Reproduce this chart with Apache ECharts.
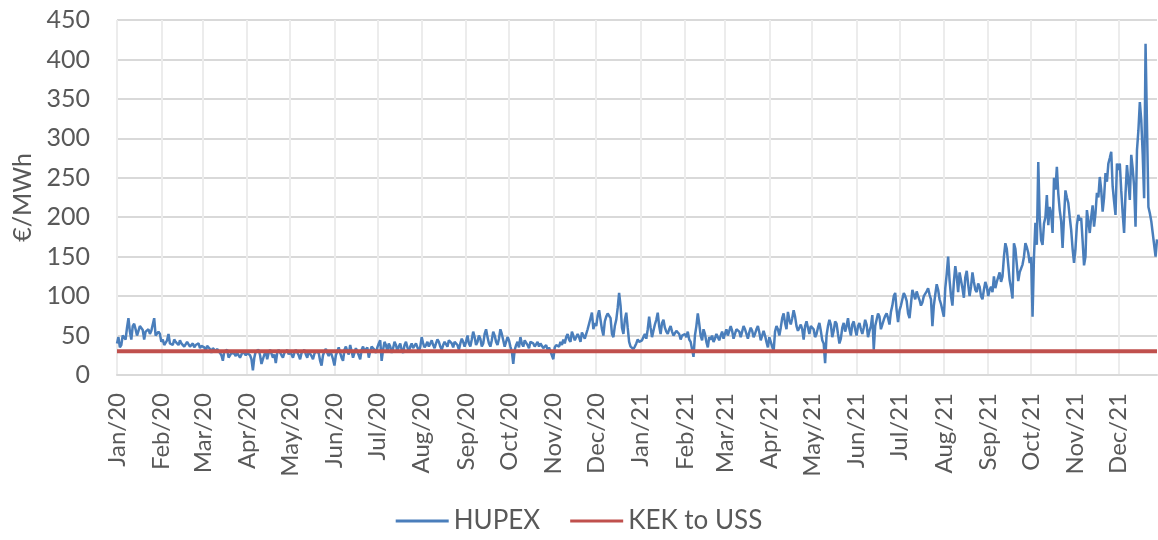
<!DOCTYPE html>
<html>
<head>
<meta charset="utf-8">
<script src="https://cdn.jsdelivr.net/npm/echarts@6/dist/echarts.min.js"></script>
<style>
html, body { margin: 0; padding: 0; background: #fff; }
#chart { width: 1158px; height: 540px; }
</style>
</head>
<body>
<div id="chart"></div>
<script>
// HUPEX day-ahead price, €/MWh, one value per day, month by month
var jan20 = [40, 48, 35, 38, 50, 52, 45, 60, 72, 55, 45, 62, 65, 58, 50, 48, 62, 60, 57, 45, 55, 55, 58, 52, 56, 55, 72, 50, 48, 55, 52];
var feb20 = [42, 45, 38, 40, 44, 52, 40, 42, 38, 45, 42, 40, 38, 44, 40, 42, 36, 38, 42, 40, 36, 38, 40, 35, 38, 36, 40, 34, 37];
var mar20 = [36, 35, 30, 37, 38, 33, 28, 34, 36, 30, 33, 32, 28, 25, 18, 30, 28, 32, 22, 25, 28, 30, 27, 24, 28, 30, 22, 26, 30, 28, 25];
var apr20 = [28, 30, 25, 20, 6, 22, 30, 28, 32, 25, 14, 12, 26, 30, 20, 28, 32, 30, 22, 26, 15, 28, 32, 34, 25, 22, 28, 30, 32, 26];
var may20 = [30, 26, 22, 28, 32, 30, 25, 20, 28, 30, 32, 26, 22, 30, 28, 24, 20, 27, 30, 32, 28, 18, 12, 25, 30, 33, 28, 24, 30, 26, 20];
var jun20 = [12, 25, 30, 35, 28, 22, 18, 32, 36, 30, 26, 38, 30, 22, 28, 34, 36, 25, 20, 32, 36, 30, 28, 35, 22, 30, 36, 38, 32, 28];
var jul20 = [35, 40, 44, 18, 32, 42, 38, 30, 40, 36, 28, 34, 42, 38, 30, 36, 40, 32, 28, 38, 42, 35, 30, 36, 40, 34, 32, 40, 38, 30, 36];
var aug20 = [48, 40, 35, 38, 42, 36, 40, 44, 38, 34, 40, 45, 42, 36, 32, 38, 42, 40, 36, 44, 46, 40, 35, 42, 44, 38, 32, 40, 46, 42, 36];
var sep20 = [42, 50, 40, 36, 45, 55, 48, 38, 42, 50, 46, 36, 40, 52, 58, 48, 40, 36, 44, 55, 50, 42, 38, 46, 58, 52, 44, 36, 42, 48];
var oct20 = [44, 36, 30, 14, 32, 38, 42, 35, 48, 40, 36, 44, 46, 38, 34, 42, 44, 40, 36, 38, 42, 36, 40, 38, 34, 36, 38, 32, 35, 30, 28];
var nov20 = [20, 35, 38, 40, 36, 42, 38, 45, 40, 48, 52, 45, 42, 55, 50, 44, 46, 52, 48, 42, 54, 50, 46, 48, 58, 60, 72, 79, 58, 66];
var dec20 = [62, 75, 82, 70, 58, 50, 68, 74, 78, 80, 72, 52, 48, 62, 70, 85, 104, 88, 60, 52, 70, 79, 60, 42, 36, 34, 33, 36, 40, 45, 42];
var jan21 = [40, 44, 48, 52, 46, 58, 74, 60, 48, 56, 64, 70, 79, 62, 52, 66, 70, 60, 55, 52, 58, 62, 55, 50, 48, 56, 58, 52, 45, 50, 48];
var feb21 = [52, 48, 55, 45, 42, 40, 23, 50, 62, 78, 65, 50, 44, 58, 52, 42, 35, 48, 45, 50, 42, 46, 52, 48, 44, 50, 55, 46];
var mar21 = [52, 58, 50, 48, 62, 56, 46, 52, 58, 60, 55, 48, 50, 62, 58, 52, 46, 54, 60, 56, 48, 52, 58, 62, 54, 44, 50, 56, 50, 42, 35];
var apr21 = [48, 42, 36, 30, 55, 62, 58, 50, 60, 72, 78, 66, 58, 80, 70, 64, 72, 82, 74, 62, 56, 60, 64, 58, 45, 62, 68, 60, 52, 62];
var may21 = [62, 58, 48, 52, 60, 66, 56, 44, 40, 15, 50, 62, 70, 64, 48, 56, 68, 65, 52, 40, 46, 60, 66, 55, 62, 72, 58, 50, 64, 68, 58];
var jun21 = [50, 62, 66, 58, 52, 60, 70, 64, 48, 56, 62, 76, 32, 62, 70, 78, 74, 58, 56, 70, 75, 78, 72, 64, 80, 88, 100, 104, 82, 67];
var jul21 = [82, 88, 96, 104, 100, 94, 78, 72, 90, 108, 102, 96, 106, 100, 95, 88, 92, 100, 98, 106, 110, 102, 96, 62, 88, 102, 115, 108, 96, 90, 88];
var aug21 = [74, 110, 128, 150, 120, 100, 88, 118, 138, 125, 105, 130, 128, 110, 98, 124, 132, 115, 100, 112, 130, 118, 108, 105, 116, 112, 100, 96, 108, 118, 112];
var sep21 = [100, 108, 112, 105, 125, 110, 118, 116, 130, 118, 125, 150, 167, 160, 140, 120, 110, 97, 167, 160, 140, 119, 130, 128, 140, 150, 167, 162, 155, 142];
var oct21 = [150, 74, 150, 193, 165, 270, 200, 171, 165, 192, 200, 228, 190, 213, 205, 180, 250, 235, 264, 230, 209, 195, 161, 200, 234, 225, 218, 200, 184, 160, 142];
var nov21 = [160, 190, 203, 196, 199, 170, 139, 150, 209, 195, 180, 200, 215, 188, 205, 231, 225, 251, 235, 207, 225, 256, 245, 268, 275, 283, 239, 220, 203, 268];
var dec21 = [260, 268, 234, 205, 180, 230, 266, 245, 222, 279, 262, 239, 188, 285, 310, 346, 323, 280, 224, 420, 420, 213, 205, 195, 180, 165, 150, 172];

// KEK to USS level, €/MWh (flat)
var kekLevel = 30;

var monthNames = ['Jan', 'Feb', 'Mar', 'Apr', 'May', 'Jun', 'Jul', 'Aug', 'Sep', 'Oct', 'Nov', 'Dec'];

var hupex = [].concat(jan20, feb20, mar20, apr20, may20, jun20, jul20, aug20, sep20, oct20, nov20, dec20,
                      jan21, feb21, mar21, apr21, may21, jun21, jul21, aug21, sep21, oct21, nov21, dec21);

function pad(n) { return n < 10 ? '0' + n : '' + n; }

var dates = [];
var kek = [];
for (var i = 0; i < hupex.length; i++) {
    var d = new Date(Date.UTC(2020, 0, 1 + i));
    dates.push(d.getUTCFullYear() + '-' + pad(d.getUTCMonth() + 1) + '-' + pad(d.getUTCDate()));
    kek.push(kekLevel);
}

//只在每月1号显示刻度
function isMonthStart(idx, val) {
    return String(val).slice(8) === '01';
}

var fontFam = 'Lato, "Open Sans", sans-serif';
var textCol = '#595959';

var chart = echarts.init(document.getElementById('chart'));
chart.setOption({
    animation: false,
    backgroundColor: '#fff',
    textStyle: { fontFamily: fontFam },
    grid: { left: 117, right: 1, top: 20, bottom: 165, containLabel: false },
    legend: {
        bottom: 1,
        left: 'center',
        itemWidth: 53,
        itemHeight: 3,
        itemGap: 30,
        textStyle: { fontSize: 26, color: textCol, fontFamily: fontFam },
        data: [
            { name: 'HUPEX', icon: 'rect' },
            { name: 'KEK to USS', icon: 'rect' }
        ]
    },
    xAxis: {
        type: 'category',
        data: dates,
        boundaryGap: false,
        axisLine: { show: true, lineStyle: { color: '#d9d9d9', width: 2 } },
        axisTick: { show: false },
        axisLabel: {
            interval: isMonthStart,
            rotate: 90,
            margin: 18,
            fontSize: 24,
            color: textCol,
            fontFamily: fontFam,
            formatter: function (val) {
                var m = parseInt(val.slice(5, 7), 10);
                return monthNames[m - 1] + '/' + val.slice(2, 4);
            }
        },
        splitLine: {
            show: true,
            interval: isMonthStart,
            lineStyle: { color: '#ececec', width: 2 }
        }
    },
    yAxis: {
        type: 'value',
        min: 0,
        max: 450,
        interval: 50,
        name: '€/MWh',
        nameLocation: 'middle',
        nameGap: 82,
        nameTextStyle: { fontSize: 25, color: textCol, fontFamily: fontFam },
        axisLine: { show: false },
        axisTick: { show: false },
        axisLabel: { fontSize: 25, color: textCol, margin: 27, fontFamily: fontFam },
        splitLine: { lineStyle: { color: '#d9d9d9', width: 2 } }
    },
    series: [
        {
            name: 'HUPEX',
            type: 'line',
            data: hupex,
            symbol: 'none',
            lineStyle: { color: '#4a7ebb', width: 2.5 },
            itemStyle: { color: '#4a7ebb' }
        },
        {
            name: 'KEK to USS',
            type: 'line',
            data: kek,
            symbol: 'none',
            lineStyle: { color: '#c0504d', width: 4 },
            itemStyle: { color: '#c0504d' }
        }
    ]
});
</script>
</body>
</html>
